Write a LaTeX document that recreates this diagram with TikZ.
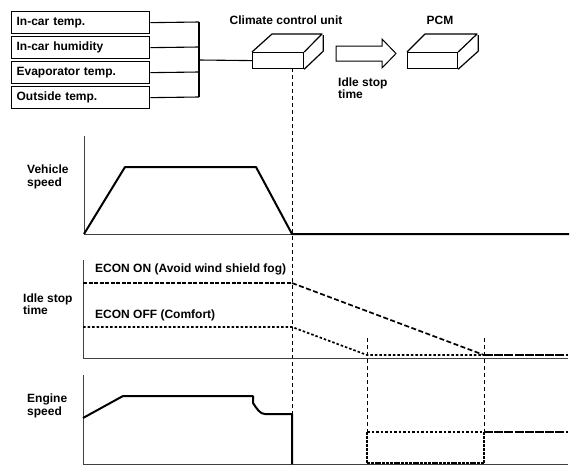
\documentclass[tikz,border=0pt]{standalone}
\usepackage{fontspec}
\setmainfont{Liberation Sans}
\begin{document}
\begin{tikzpicture}[x=1pt,y=-1pt,
  every node/.style={font=\fontsize{12}{12.5}\selectfont\bfseries},
  sensor/.style={draw,line width=1.3pt,minimum width=138pt,minimum height=22pt,
    text width=128pt,inner xsep=5pt,align=left,anchor=north west},
  unitbox/.style={draw,line width=1.2pt,minimum width=51pt,minimum height=16pt,anchor=north west,inner sep=0pt},
  lbl/.style={align=left,anchor=west,inner sep=0pt},
  thin axis/.style={line width=0.9pt,black!75},
  curve/.style={line width=2pt},
  vdash/.style={line width=1pt,dash pattern=on 4pt off 3pt},
  dotline/.style={line width=1.7pt,dash pattern=on 2.5pt off 2pt},
  dashline/.style={line width=1.7pt,dash pattern=on 5pt off 2.5pt},
  longdash/.style={line width=1.7pt,dash pattern=on 9pt off 1.2pt},
  conn/.style={line width=1.1pt}]
\useasboundingbox (0,0) rectangle (579,474);

% sensor boxes
\node[sensor] (s1) at (11,11) {In-car temp.};
\node[sensor] (s2) at (11,36) {In-car humidity};
\node[sensor] (s3) at (11,61) {Evaporator temp.};
\node[sensor] (s4) at (11,86) {Outside temp.};
\coordinate (b1) at (199,22);
\coordinate (b2) at (199,47);
\coordinate (b3) at (199,72);
\coordinate (b4) at (199,97);
\coordinate (bm) at (199,60);
\draw[conn] (s1.east) -- (b1);
\draw[conn] (s2.east) -- (b2);
\draw[conn] (s3.east) -- (b3);
\draw[conn] (s4.east) -- (b4);
\draw[conn] (b1) -- (b4);

% climate control unit
\node[unitbox] (ccu) at (252,52) {};
\draw[line width=1.2pt,line join=round] (ccu.north west) -- ++(20,-18) -- ++(50,0) -- (ccu.north east)
  (ccu.south east) -- ++(19,-18) -- ++(0,-16);
\node (ccul) at (286,20) {Climate control unit};
\draw[conn] (bm) -- (ccu.west);

% arrow
\draw[line width=1pt,line join=miter] (336,46) -- (382,46) -- (382,39) -- (396,53.5) -- (382,68) -- (382,61) -- (336,61) -- cycle;
\node[lbl] (ist) at (338,88) {Idle stop\\time};

% PCM
\node[unitbox,minimum width=50pt] (pcm) at (407,52) {};
\draw[line width=1.2pt,line join=round] (pcm.north west) -- ++(18,-18) -- ++(52,0) -- (pcm.north east)
  (pcm.south east) -- ++(20,-18) -- ++(0,-16);
\node (pcml) at (440,20) {PCM};

% dashed verticals
\coordinate (d0) at (292,68);
\coordinate (d1) at (292,464);
\draw[vdash] (d0) -- (d1);
\coordinate (e0) at (367,338);
\coordinate (e1) at (367,432);
\coordinate (f0) at (484,338);
\coordinate (f1) at (484,432);
\draw[vdash] (e0) -- (e1);
\draw[vdash] (f0) -- (f1);

% vehicle speed chart
\node[lbl] (vsl) at (27,177) {Vehicle\\speed};
\draw[thin axis] (84,136) -- (84,234) -- (292,234);
\draw[curve,line join=round] (84,234) -- (125,167) -- (256,167) -- (292,234) -- (569,234);

% idle stop time chart
\node[lbl] (istl) at (23,304) {Idle stop\\time};
\draw[thin axis] (83,260) -- (83,358) -- (568,358);
\node[lbl] (eon) at (95,269) {ECON ON (Avoid wind shield fog)};
\node[lbl] (eoff) at (95,315) {ECON OFF (Comfort)};
\draw[line width=1.4pt,dash pattern=on 4pt off 1.5pt] (83,283) -- (292,283);
\draw[dashline] (292,283) -- (484,355);
\draw[longdash] (484,355) -- (568,355);
\draw[dotline] (83,327) -- (292,327) -- (367,355) -- (484,355);

% engine speed chart
\node[lbl] (esl) at (27,406) {Engine\\speed};
\draw[thin axis] (83,375) -- (83,464) -- (568,464);
\draw[curve,line join=round] (83,418) -- (123,396) -- (253,396) -- (253,403)
  .. controls (257,409) and (260,414) .. (265,414) -- (292,414) -- (292,464);
\draw[dotline] (367,432) -- (484,432);
\draw[line width=1.7pt,dash pattern=on 3pt off 1pt] (367,432) -- (367,464);
\draw[line width=1.7pt,dash pattern=on 3pt off 1pt] (484,432) -- (484,464);
\draw[line width=1.4pt,dash pattern=on 3pt off 0.8pt] (367,463) -- (484,463);
\draw[longdash] (484,432) -- (568,432);
\end{tikzpicture}
\end{document}
